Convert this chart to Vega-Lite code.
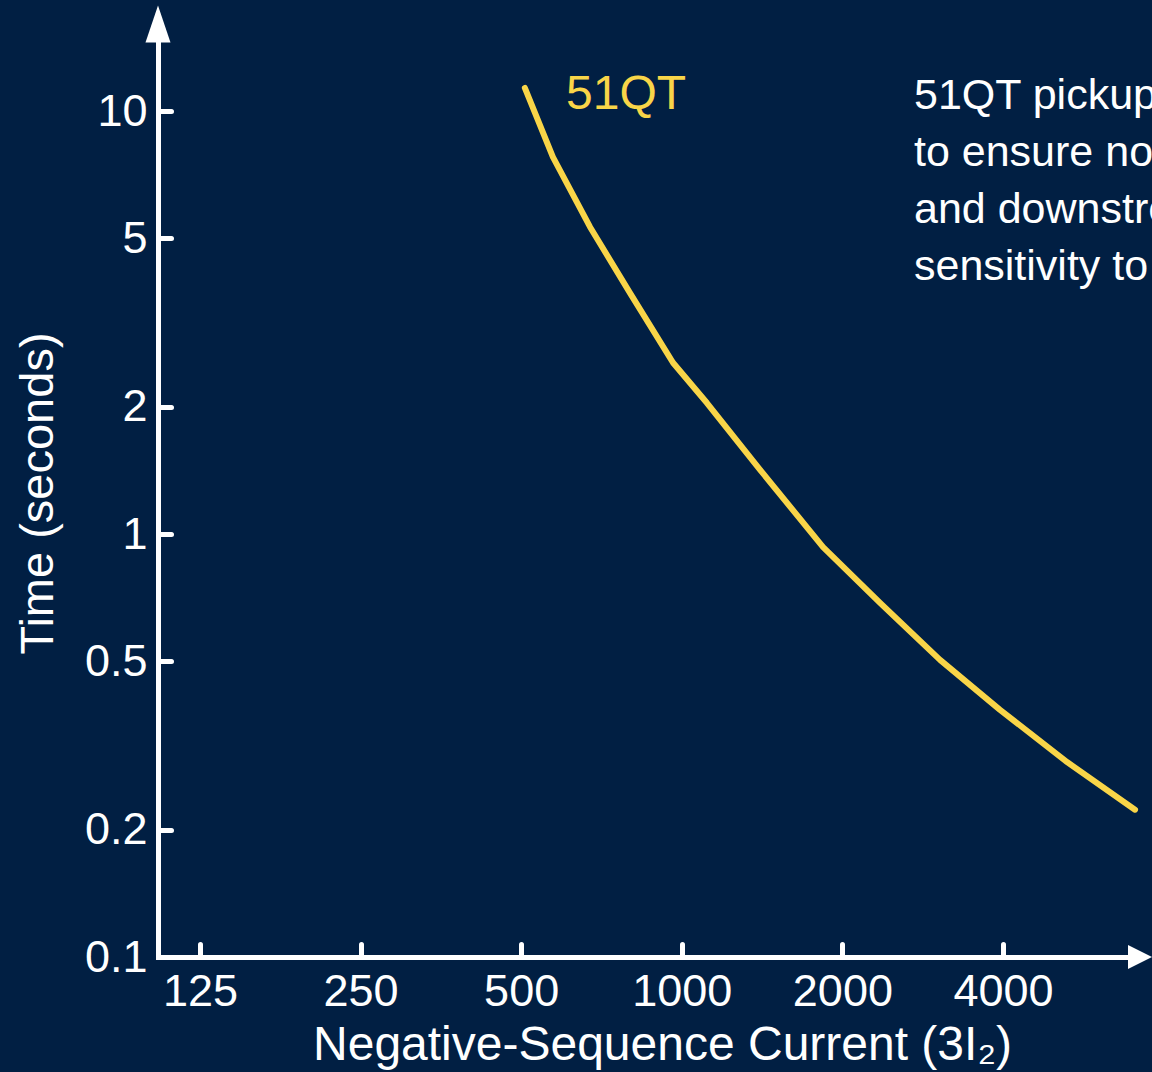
{
  "$schema": "https://vega.github.io/schema/vega-lite/v6.json",
  "width": 982,
  "height": 933,
  "autosize": "none",
  "padding": {"left": 158, "top": 24, "right": 12, "bottom": 115},
  "background": "#011f43",
  "config": {"view": {"stroke": null}, "font": "Liberation Sans"},
  "encoding": {
    "x": {
      "field": "current",
      "type": "quantitative",
      "scale": {"type": "log", "domain": [104.3, 7225], "nice": false},
      "axis": {
        "values": [125, 250, 500, 1000, 2000, 4000],
        "format": "d",
        "title": "Negative-Sequence Current (3I₂)",
        "grid": false,
        "domainColor": "#ffffff",
        "domainWidth": 5,
        "domainCap": "square",
        "tickColor": "#ffffff",
        "tickWidth": 5,
        "tickSize": -13,
        "tickCap": "round",
        "labelColor": "#ffffff",
        "labelFontSize": 45,
        "labelPadding": 25,
        "labelFlush": false,
        "labelOverlap": false,
        "titleColor": "#ffffff",
        "titleFontSize": 48,
        "titleFontWeight": "normal",
        "titleX": 504,
        "titleY": 102,
        "titleBaseline": "alphabetic",
        "titleAlign": "center"
      }
    },
    "y": {
      "field": "time",
      "type": "quantitative",
      "scale": {"type": "log", "domain": [0.1, 16.06], "nice": false},
      "axis": {
        "values": [0.1, 0.2, 0.5, 1, 2, 5, 10],
        "format": "~g",
        "title": "Time (seconds)",
        "grid": false,
        "domainColor": "#ffffff",
        "domainWidth": 5,
        "domainCap": "square",
        "tickColor": "#ffffff",
        "tickWidth": 5,
        "tickSize": -13,
        "tickCap": "round",
        "labelColor": "#ffffff",
        "labelFontSize": 45,
        "labelPadding": 24,
        "labelFlush": false,
        "labelOverlap": false,
        "titleColor": "#ffffff",
        "titleFontSize": 47,
        "titleFontWeight": "normal",
        "titleAngle": -90,
        "titleX": -120,
        "titleY": 469,
        "titleBaseline": "middle",
        "titleAlign": "center"
      }
    }
  },
  "layer": [
    {
      "data": {"values": [
        {"current": 508, "time": 11.34},
        {"current": 573.5, "time": 7.78},
        {"current": 673, "time": 5.32},
        {"current": 800, "time": 3.71},
        {"current": 963, "time": 2.54},
        {"current": 1115, "time": 2.04},
        {"current": 1401, "time": 1.42},
        {"current": 1840, "time": 0.931},
        {"current": 2353, "time": 0.687},
        {"current": 3048, "time": 0.504},
        {"current": 3949, "time": 0.384},
        {"current": 5274, "time": 0.289},
        {"current": 7071, "time": 0.223}
      ]},
      "mark": {"type": "line", "color": "#f9d548", "strokeWidth": 6, "strokeCap": "round", "strokeJoin": "round"}
    },
    {
      "data": {"values": [{"current": 104.3, "time": 16.06}]},
      "mark": {"type": "point", "shape": "M0,-1L0.676,1L-0.676,1Z", "size": 1369, "filled": true, "color": "#ffffff", "opacity": 1}
    },
    {
      "data": {"values": [{"current": 7225, "time": 0.1}]},
      "mark": {"type": "point", "shape": "M1,0L-1,1L-1,-1Z", "size": 576, "filled": true, "color": "#ffffff", "opacity": 1}
    },
    {
      "data": {"values": [{"current": 607, "time": 10.1, "label": "51QT"}]},
      "mark": {"type": "text", "color": "#f9d548", "fontSize": 48, "align": "left", "baseline": "alphabetic"},
      "encoding": {"text": {"field": "label"}}
    },
    {
      "data": {"values": [{"current": 2724, "time": 10.1, "label": ["51QT pickup", "to ensure no", "and downstream", "sensitivity to"]}]},
      "mark": {"type": "text", "color": "#ffffff", "fontSize": 43, "align": "left", "baseline": "alphabetic", "lineHeight": 57},
      "encoding": {"text": {"field": "label"}}
    }
  ]
}
